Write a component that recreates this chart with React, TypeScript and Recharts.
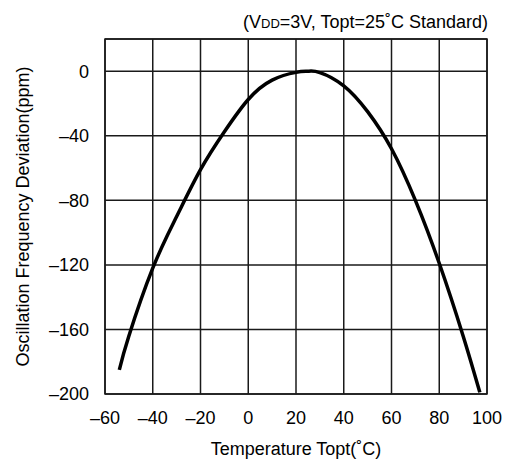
import {
  LineChart,
  Line,
  XAxis,
  YAxis,
  CartesianGrid,
  ReferenceArea,
  Label,
} from "recharts";

const temps = [-54, -50, -40, -30, -20, -10, 0, 10, 20, 25, 30, 40, 50, 60, 70, 80, 90, 97];
const deviation = [-185, -164, -122, -90, -61, -37.5, -17.5, -5.5, -0.7, 0, -0.8, -9, -25, -48, -80, -119, -164, -199];
const xTicks = [-60, -40, -20, 0, 20, 40, 60, 80, 100];
const yTicks = [-200, -160, -120, -80, -40, 0];

const FONT = "'Liberation Sans', Arial, sans-serif";

const data = temps.map((t, i) => ({ t, dev: deviation[i] }));

const fmt = (v: number) => (v < 0 ? `\u2013${Math.abs(v)}` : `${v}`);

export default function App() {
  return (
    <div style={{ position: "absolute", left: 0, top: 0, width: 509, height: 465, background: "#fff" }}>
      <LineChart
        width={509}
        height={465}
        data={data}
        margin={{ top: 39, right: 22, left: 0, bottom: 0 }}
      >
        <CartesianGrid stroke="#1a1a1a" strokeWidth={1.5} />
        <ReferenceArea
          x1={-60}
          x2={100}
          y1={-200}
          y2={20}
          stroke="#1a1a1a"
          strokeWidth={1.5}
          fill="none"
          fillOpacity={0}
        />
        <XAxis
          dataKey="t"
          type="number"
          domain={[-60, 100]}
          ticks={xTicks}
          tickFormatter={fmt}
          tickLine={false}
          axisLine={false}
          tickMargin={11}
          tick={{ fill: "#000", fontSize: 18, fontFamily: FONT }}
          height={71}
        >
          <Label
            content={() => (
              <text x={296} y={455} textAnchor="middle" fill="#000" fontSize={18} fontFamily={FONT}>
                Temperature Topt(˚C)
              </text>
            )}
          />
        </XAxis>
        <YAxis
          type="number"
          domain={[-200, 20]}
          ticks={yTicks}
          tickFormatter={fmt}
          tickLine={false}
          axisLine={false}
          tickMargin={10}
          width={105}
          tick={{ fill: "#000", fontSize: 18, fontFamily: FONT }}
        >
          <Label
            content={() => (
              <text
                x={29}
                y={216.5}
                textAnchor="middle"
                fill="#000"
                fontSize={18}
                fontFamily={FONT}
                transform="rotate(-90 29 216.5)"
              >
                Oscillation Frequency Deviation(ppm)
              </text>
            )}
          />
        </YAxis>
        <Line
          type="natural"
          dataKey="dev"
          stroke="#000"
          strokeWidth={3.5}
          dot={false}
          isAnimationActive={false}
        />
      </LineChart>
      <svg width={509} height={40} style={{ position: "absolute", left: 0, top: 0 }}>
        <text x={488} y={28} textAnchor="end" fill="#000" fontSize={18} fontFamily={FONT}>
          (V<tspan fontSize={13}>DD</tspan>=3V, Topt=25˚C Standard)
        </text>
      </svg>
    </div>
  );
}
